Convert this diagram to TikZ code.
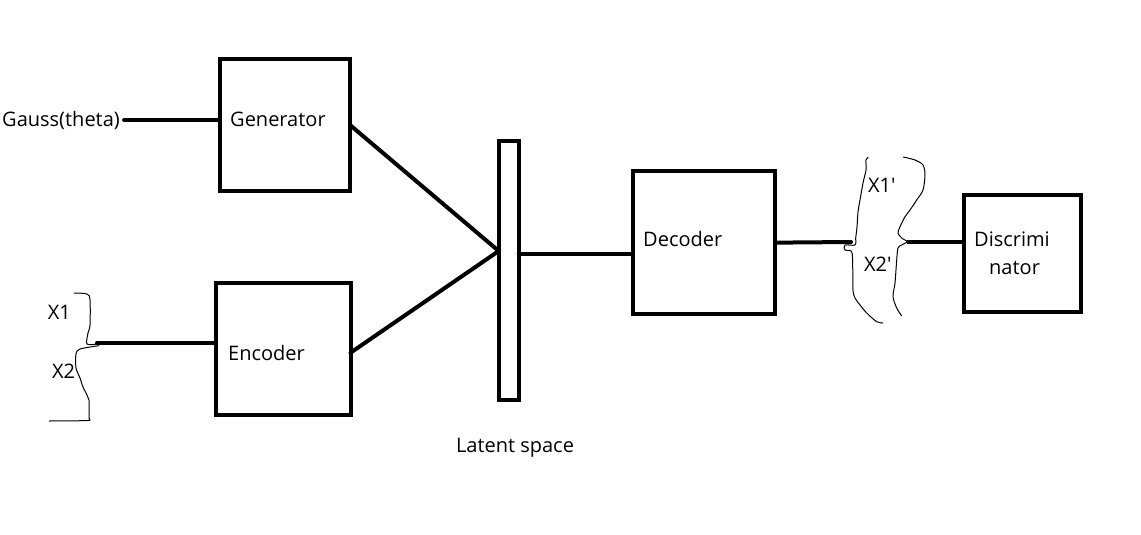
\documentclass[tikz,border=0pt]{standalone}
\usepackage{fontspec}
\setmainfont{Open Sans}
\begin{document}
\begin{tikzpicture}[x=1pt,y=-1pt]
\tikzset{
 box/.style={draw, line width=4pt, inner sep=0pt, outer sep=0pt},
 lbl/.style={inner sep=0pt, anchor=base west, font=\fontsize{20}{24}\selectfont},
 wire/.style={line width=4pt, line cap=round},
 curly/.style={line width=1pt}
}
\useasboundingbox (0,0) rectangle (1141,535);
% boxes
\node[box, minimum width=130pt, minimum height=131pt] (gen) at (285,125) {};
\node[box, minimum width=134.5pt, minimum height=131.5pt] (enc) at (283.25,348.75) {};
\node[box, minimum width=20pt, minimum height=258.4pt] (latent) at (508.7,270.5) {};
\node[box, minimum width=142.6pt, minimum height=142.7pt] (dec) at (704,242.65) {};
\node[box, minimum width=117.6pt, minimum height=117pt] (disc) at (1022.5,253.8) {};
% texts
\node[lbl] (gauss) at (2,126) {Gauss(theta)};
\node[lbl] (gentext) at (230,126) {Generator};
\node[lbl] (enctext) at (228,360) {Encoder};
\node[lbl] (dectext) at (643,246) {Decoder};
\node[lbl] (disctext1) at (974,246.7) {Discrimi};
\node[lbl] (disctext2) at (989,274) {nator};
\node[lbl] (x1) at (47.7,319.3) {X1};
\node[lbl] (x2) at (52,378) {X2};
\node[lbl] (x1p) at (868,192.7) {X1\textquotesingle};
\node[lbl] (x2p) at (864,271.7) {X2\textquotesingle};
\node[lbl, anchor=base] (lattext) at (515,452) {Latent space};
% helper coordinates
\coordinate (gy) at (0,120);
\path (latent.west) ++(0,-19.5) coordinate (join);
\path ([yshift=17pt]latent.east) coordinate (l2);
\coordinate (b1out) at (97,343);
\coordinate (b2in) at (851,242);
\coordinate (b2out) at (908,242);
% wires
\draw[wire] ([xshift=4pt]gauss.east |- gy) -- (gen.west |- gy);
\draw[wire] (gen.east) -- (join);
\draw[wire] ([yshift=-4pt]enc.east) -- (join);
\draw[wire] (l2) -- (l2 -| dec.west);
\draw[wire] (dec.east) -- (b2in);
\draw[wire] (b2out) -- (b2out -| disc.west);
\draw[wire] (b1out) -- (b1out -| enc.west);
% left brace
\draw[curly] plot[smooth, tension=0.5] coordinates {(74,293) (87,294) (90,300) (90,325) (88,333) (87,344) (97,344)};
\draw[curly] plot[smooth, tension=0.5] coordinates {(99,345.7) (80,349) (76,354) (76,368) (80,378) (83,387) (87,395) (89,400) (89,418) (87,420.5) (49,421)};
% right brace
\draw[curly] plot[smooth, tension=0.5] coordinates {(868.3,157.3) (866,160) (866,170) (863,183) (860,200) (858,212) (857,227) (855.7,238) (855,245) (845,245) (845,250) (851.7,251.7) (852.7,266.7) (853,290) (855,298) (860,305) (866.7,313) (876.7,321.7) (883,323)};
\draw[curly] plot[smooth, tension=0.5] coordinates {(903,157) (915,160) (923,165) (925,175) (923,190) (916.7,200) (910,210) (905,216.7) (900,226.7) (898,233) (901.7,238) (907,241.7) (901.7,245) (898,248) (896.7,260) (895,283) (893,296.7) (896.7,308) (901.7,316)};
\end{tikzpicture}
\end{document}
